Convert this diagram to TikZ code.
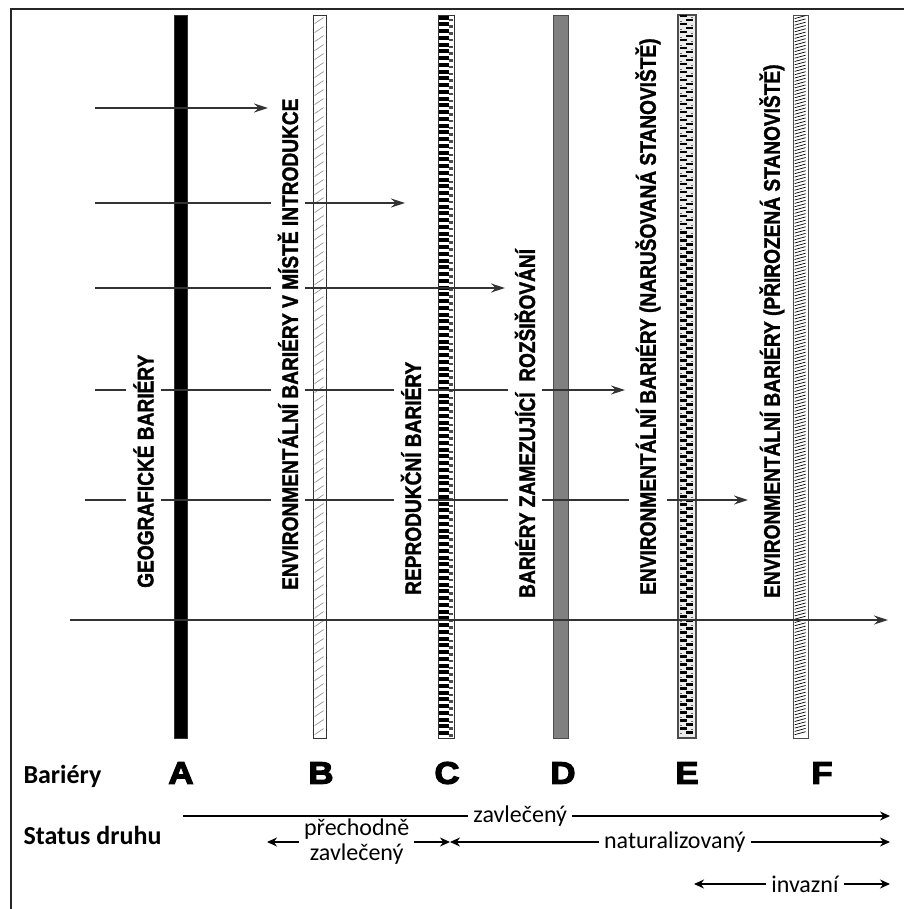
\documentclass[tikz,border=0pt]{standalone}
\usepackage{fontspec}
\setmainfont{Carlito}
\newfontfamily\barfont{Liberation Sans}[BoldFeatures={FakeStretch=0.85,FakeBold=1.5}]
\newfontfamily\letterfont{Liberation Sans}[BoldFeatures={FakeBold=4,FakeStretch=1.12}]
\usetikzlibrary{arrows.meta}

\begin{document}
\begin{tikzpicture}[x=1pt, y=-1pt,
    bar/.style = {draw=black!80, line width=0.8pt, minimum height=723pt, inner sep=0pt},
    vlab/.style = {font=\barfont\bfseries\fontsize{22.5}{23}\selectfont, rotate=90, anchor=west, fill=white, inner xsep=0pt, inner ysep=7pt},
    arr/.style = {draw=black!80, line width=1.1pt, -{Stealth[length=14pt,width=9pt]}},
    stat/.style = {line width=1.2pt, {Stealth[length=10pt,width=9pt]}-{Stealth[length=10pt,width=9pt]}},
    lbl/.style = {fill=white, inner xsep=5pt, inner ysep=0pt, font=\fontsize{24}{25}\selectfont, align=center},
    letter/.style = {font=\letterfont\bfseries\fontsize{31}{31}\selectfont},
    row/.style = {font=\bfseries\fontsize{26}{26}\selectfont, anchor=west}]
    \useasboundingbox (0,0) rectangle (904,909);
    % Bars
    \node[bar, fill=black, minimum width=13pt] (A) at (180.5,376.5) {};
    \node[bar, fill=white, minimum width=13pt] (B) at (319.5,376.5) {};
    \node[bar, fill=white, minimum width=16pt] (C) at (446,376.5) {};
    \node[bar, fill=black!50, draw=black!70, minimum width=15pt] (D) at (560.5,376.5) {};
    \node[bar, fill=black!8, draw=black!70, line width=1.4pt, minimum width=18pt] (E) at (687,376.5) {};
    \node[bar, fill=white, draw=black!70, minimum width=15pt] (F) at (800.5,376.5) {};
    % Fillings
    \foreach \k in {0,...,79}
        \draw[black!45, line width=0.6pt] ([shift={(2,\k*9+9)}]B.north west) -- ++(9,-6);
    \foreach \k in {0,...,106} {
        \fill ([shift={(1,\k*6.75+1)}]C.north west) rectangle ++(10,4);
        \fill[black!70] ([shift={(11.5,\k*6.75+4)}]C.north west) rectangle ++(3.5,2.5);
    }
    \foreach \k in {0,...,179} {
        \fill ([shift={({mod(\k,2)*6+2.5},{\k*4+1})}]E.north west) rectangle ++(7,2.2);
        \fill[black!60] ([shift={({mod(\k+1,2)*11+2.5},{\k*4+2.5})}]E.north west) rectangle ++(2,1.5);
    }
    \foreach \k in {0,...,217}
        \draw[line width=0.7pt] ([shift={(2,\k*3.3+4)}]F.north west) -- ++(11,-3);
    % Arrows
    \coordinate (s1) at (95,108);  \coordinate (e1) at (268,108);
    \coordinate (s2) at (95,203);  \coordinate (e2) at (405,203);
    \coordinate (s3) at (95,288);  \coordinate (e3) at (505,288);
    \coordinate (s4) at (95,390);  \coordinate (e4) at (625,390);
    \coordinate (s5) at (85,500);  \coordinate (e5) at (748,500);
    \coordinate (s6) at (70,620);  \coordinate (e6) at (888,620);
    \foreach \i in {1,...,6}
        \draw[arr] (s\i) -- (e\i);
    % Barrier names
    \node[vlab] (tA) at (143.5,588) {GEOGRAFICKÉ BARIÉRY};
    \node[vlab] (tB) at (288,590) {ENVIRONMENTÁLNÍ BARIÉRY V MÍSTĚ INTRODUKCE};
    \node[vlab] (tC) at (411,595) {REPRODUKČNÍ BARIÉRY};
    \node[vlab] (tD) at (525,598) {BARIÉRY ZAMEZUJÍCÍ\ \ ROZŠIŘOVÁNÍ};
    \node[vlab] (tE) at (648,595) {ENVIRONMENTÁLNÍ BARIÉRY (NARUŠOVANÁ STANOVIŠTĚ)};
    \node[vlab] (tF) at (772,598) {ENVIRONMENTÁLNÍ BARIÉRY (PŘIROZENÁ STANOVIŠTĚ)};
    % Letters
    \node[letter] (lA) at (181,773) {A};
    \node[letter] (lB) at (321,773) {B};
    \node[letter] (lC) at (447,773) {C};
    \node[letter] (lD) at (563,773) {D};
    \node[letter] (lE) at (687,773) {E};
    \node[letter] (lF) at (822,773) {F};
    \node[row] (bariery) at (20,776) {Bariéry};
    \node[row] (status) at (20,835) {Status druhu};
    % Status
    \coordinate (p1) at (267,842);  \coordinate (p2) at (450,842);
    \coordinate (n2) at (890,842);
    \coordinate (i1) at (694,884);  \coordinate (i2) at (890,884);
    \coordinate (z1) at (183,816);  \coordinate (z2) at (890,816);
    \draw[stat] (p1) -- node[lbl, pos=0.49] (prech) {přechodně\\zavlečený} (p2);
    \draw[stat] (p2) -- node[lbl, pos=0.511] (nat) {naturalizovaný} (n2);
    \draw[stat] (i1) -- node[lbl, pos=0.566] (inv) {invazní} (i2);
    \draw[line width=1.2pt, -{Stealth[length=10pt,width=9pt]}] (z1) -- node[lbl, pos=0.477] (zav) {zavlečený} (z2);
    % Frame
    \draw[line width=2pt, black!85] (11,909) -- (11,9) -- (904,9);
\end{tikzpicture}
\end{document}
